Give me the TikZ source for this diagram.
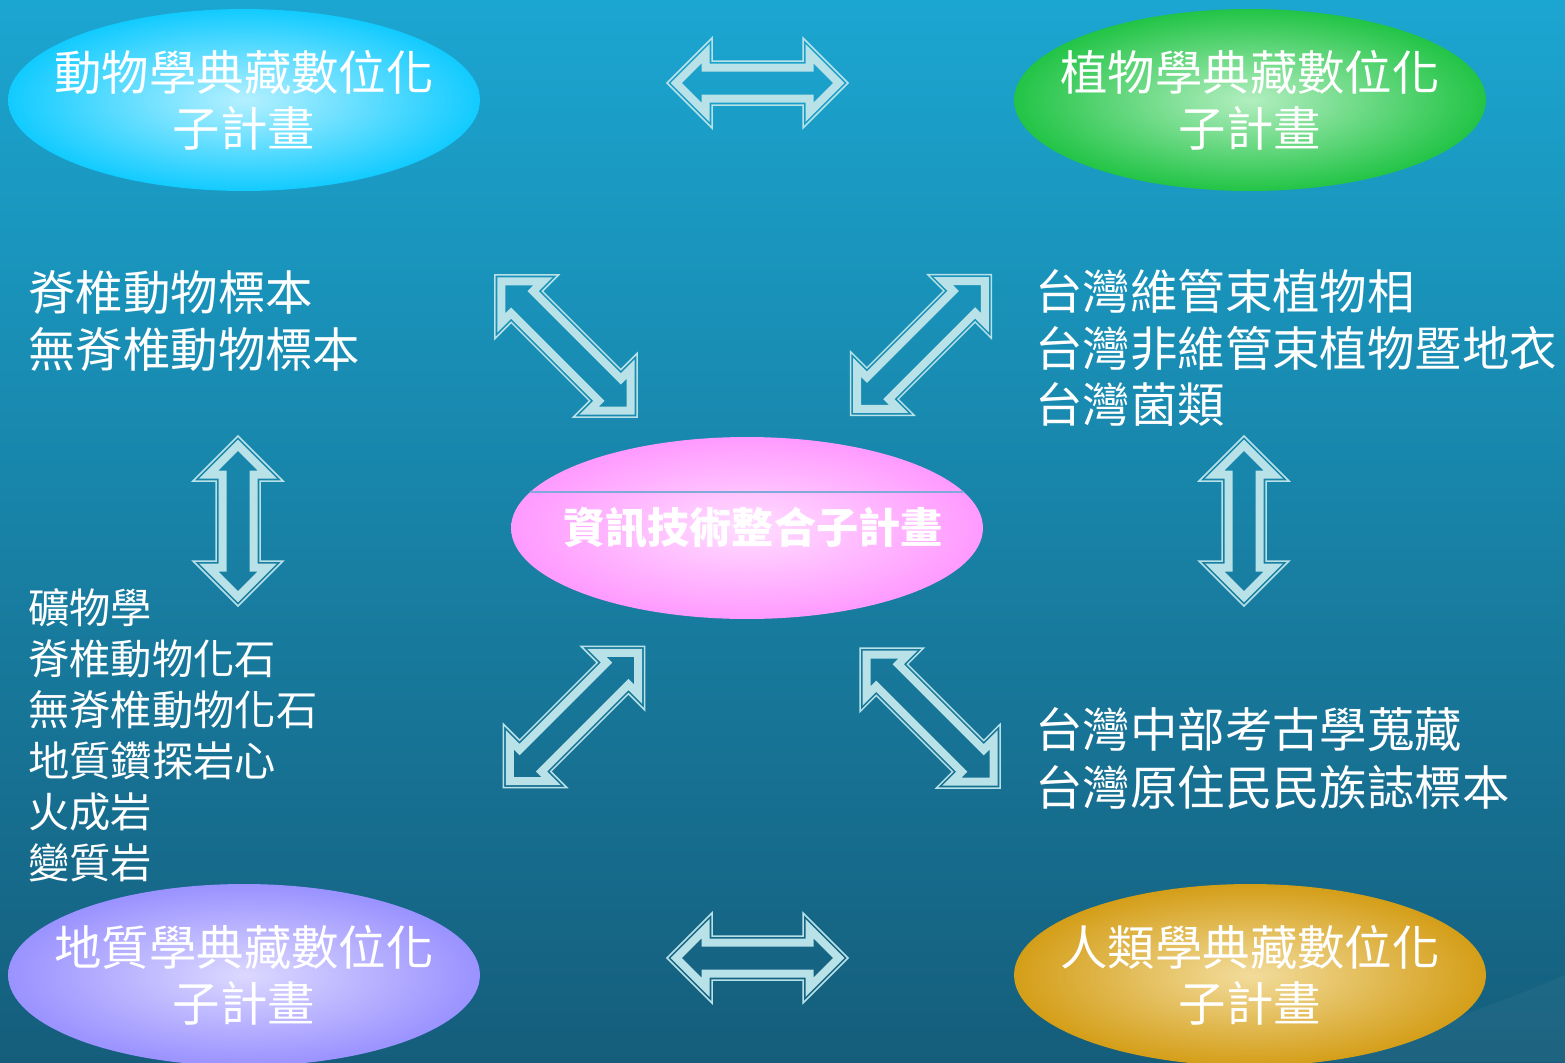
\documentclass[tikz,border=0pt]{standalone}
\usepackage{fontspec}
\newfontfamily\cjk{Noto Sans CJK TC}
\usetikzlibrary{shapes.geometric}

\definecolor{bgtop}{HTML}{1BA6D1}
\definecolor{bgmid}{HTML}{1784A3}
\definecolor{bgbot}{HTML}{155D7B}
\definecolor{arrowcol}{HTML}{B8E2E8}
\definecolor{zooin}{HTML}{B4F0FF}
\definecolor{zooout}{HTML}{12CBFF}
\definecolor{florain}{HTML}{B2EEC0}
\definecolor{floraout}{HTML}{22C446}
\definecolor{geoin}{HTML}{DCD8FF}
\definecolor{geoout}{HTML}{9A92FF}
\definecolor{anthroin}{HTML}{F2DC9C}
\definecolor{anthroout}{HTML}{D49E18}
\definecolor{infoin}{HTML}{FFDDFF}
\definecolor{infoout}{HTML}{FF9AFF}
\definecolor{chord}{HTML}{80A8D8}

\begin{document}
\begin{tikzpicture}[
  x=0.02cm, y=-0.02cm,
  plan/.style={
    ellipse,
    minimum width=9.44cm,
    minimum height=3.64cm,
    inner sep=0pt
  },
  plantext/.style={
    align=center,
    inner sep=0pt,
    text=white,
    font=\cjk\fontsize{27}{32}\selectfont
  },
  items/.style={
    anchor=west,
    align=left,
    inner sep=0pt,
    text=white,
    font=\cjk\fontsize{27}{32.4}\selectfont
  },
  band/.style={
    draw=arrowcol,
    line join=miter
  },
  dblarrow/.pic={
    \draw[band, line width=0.03cm]
      (-#1/2,0) -- (-#1/2+45,-45) -- (-#1/2+45,-22) -- (#1/2-45,-22)
      -- (#1/2-45,-45) -- (#1/2,0) -- (#1/2-45,45) -- (#1/2-45,22)
      -- (-#1/2+45,22) -- (-#1/2+45,45) -- cycle;
    \draw[band, line width=0.16cm]
      (-#1/2+9.2,0) -- (-#1/2+38.5,-29.3) -- (-#1/2+38.5,-15.5)
      -- (#1/2-38.5,-15.5) -- (#1/2-38.5,-29.3) -- (#1/2-9.2,0)
      -- (#1/2-38.5,29.3) -- (#1/2-38.5,15.5) -- (-#1/2+38.5,15.5)
      -- (-#1/2+38.5,29.3) -- cycle;
  }
]
  \useasboundingbox (0,0) rectangle (1565,1062);
  \clip (0,0) rectangle (1565,1062);
  \shade[top color=bgtop, middle color=bgmid, bottom color=bgbot]
    (0,0) rectangle (1565,1062);
  \fill[white, opacity=0.04] (1330,1062)
    .. controls (1450,1020) and (1520,995) .. (1565,975)
    -- (1565,1062) -- cycle;

  \node[plan, inner color=zooin, outer color=zooout] (zoo) at (244,100) {};
  \node[plantext] (zoolabel) at (zoo) {動物學典藏數位化\\子計畫};
  \node[plan, inner color=florain, outer color=floraout] (flora) at (1250,100) {};
  \node[plantext] (floralabel) at (flora) {植物學典藏數位化\\子計畫};
  \node[plan, inner color=geoin, outer color=geoout] (geo) at (244,975) {};
  \node[plantext] (geolabel) at (geo) {地質學典藏數位化\\子計畫};
  \node[plan, inner color=anthroin, outer color=anthroout] (anthro) at (1250,975) {};
  \node[plantext] (anthrolabel) at (anthro) {人類學典藏數位化\\子計畫};
  \node[plan, inner color=infoin, outer color=infoout] (info) at (747,528) {};
  \draw[chord, line width=0.04cm] (530,492) -- (964,492);
  \node[plantext, font=\cjk\bfseries\fontsize{24}{28}\selectfont]
    (infolabel) at (753,528) {資訊技術整合子計畫};

  \node[items] (zooitems) at (28,321)
    {脊椎動物標本\\無脊椎動物標本};
  \node[items, font=\cjk\fontsize{27}{32}\selectfont] (floraitems) at (1035,348)
    {台灣維管束植物相\\台灣非維管束植物暨地衣\\台灣菌類};
  \node[items, font=\cjk\fontsize{23.5}{29}\selectfont] (geoitems) at (28,735)
    {礦物學\\脊椎動物化石\\無脊椎動物化石\\地質鑽探岩心\\火成岩\\變質岩};
  \node[items, font=\cjk\fontsize{27}{33}\selectfont] (anthroitems) at (1035,758)
    {台灣中部考古學蒐藏\\台灣原住民民族誌標本};

  \coordinate (zooflora) at (757.5,83);
  \coordinate (geoanthro) at (757.5,958);
  \coordinate (zoogeo) at (238,521);
  \coordinate (floraanthro) at (1244,521);
  \coordinate (zooinfo) at (566,346);
  \coordinate (florainfo) at (921,345);
  \coordinate (geoinfo) at (574,717);
  \coordinate (anthroinfo) at (930,718);

  \pic at (zooflora) {dblarrow=181};
  \pic at (geoanthro) {dblarrow=181};
  \pic[rotate=90] at (zoogeo) {dblarrow=170};
  \pic[rotate=90] at (floraanthro) {dblarrow=170};
  \pic[rotate=-45] at (zooinfo) {dblarrow=201};
  \pic[rotate=45] at (florainfo) {dblarrow=199};
  \pic[rotate=45] at (geoinfo) {dblarrow=200};
  \pic[rotate=-45] at (anthroinfo) {dblarrow=198};
\end{tikzpicture}
\end{document}
